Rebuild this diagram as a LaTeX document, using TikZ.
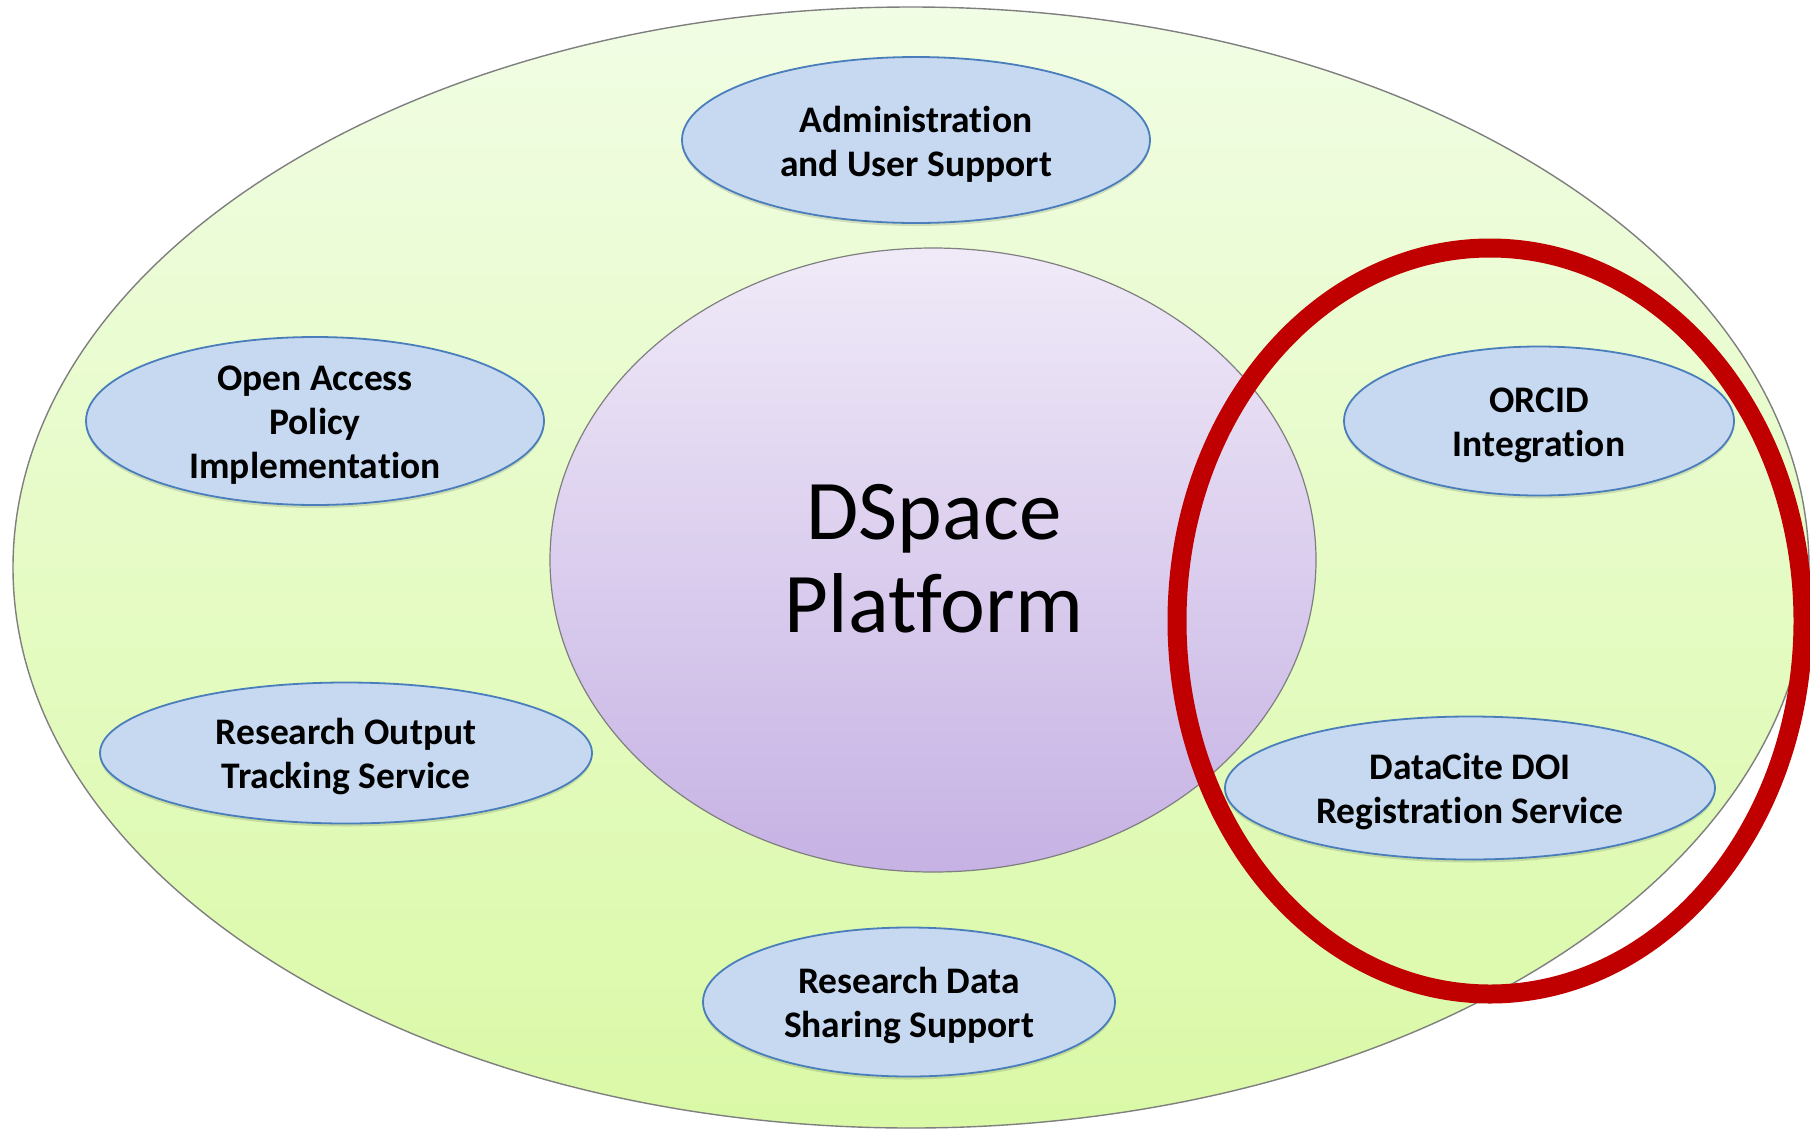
\documentclass[tikz,border=0pt]{standalone}
\usepackage{fontspec}
\setmainfont{Carlito}[Ligatures=NoCommon]
\usetikzlibrary{shapes.geometric,shadows}
\definecolor{grtop}{HTML}{F1FDE4}
\definecolor{grbot}{HTML}{DAF9A6}
\definecolor{putop}{HTML}{F0EAF8}
\definecolor{pubot}{HTML}{C6B2E4}
\definecolor{blfill}{HTML}{C6D9F1}
\definecolor{bldraw}{HTML}{4A7EBB}
\definecolor{ringred}{HTML}{C00000}
\definecolor{edgegray}{HTML}{7F7F7F}
\begin{document}
\begin{tikzpicture}[x=1pt,y=-1pt,
  svc/.style={ellipse, fill=blfill, draw=bldraw, line width=1.8pt, inner sep=0pt,
    drop shadow={shadow xshift=0pt, shadow yshift=-3pt, opacity=0.12, fill=black}},
  lbl/.style={align=center, font=\fontsize{37.5}{44}\selectfont\bfseries, inner sep=0pt},
  big/.style={align=center, font=\fontsize{85}{93}\selectfont, inner sep=0pt}
]
\useasboundingbox (0,0) rectangle (1810,1128);
\clip (0,0) rectangle (1810,1128);
\fill[white] (0,0) rectangle (1810,1128);

% outer ellipse
\node[ellipse, top color=grtop, bottom color=grbot, draw=edgegray, line width=1.4pt,
  minimum width=1796pt, minimum height=1121pt, inner sep=0pt] (outer) at (911,567.5) {};

% central platform
\node[ellipse, top color=putop, bottom color=pubot, draw=edgegray, line width=1.2pt,
  minimum width=766pt, minimum height=624pt, inner sep=0pt] (core) at (933,560) {};
\node[big] (corelbl) at (934,559) {DSpace\\Platform};

% services
\node[svc, minimum width=468pt, minimum height=166pt] (adm) at (916,140) {};
\node[lbl] (admlbl) at (916,144) {Administration\\and User Support};

\node[svc, minimum width=458pt, minimum height=168pt] (oa) at (315,421) {};
\node[lbl] (oalbl) at (315,425) {Open Access\\Policy\\Implementation};

\node[svc, minimum width=492pt, minimum height=141pt] (ro) at (346,753) {};
\node[lbl] (rolbl) at (346,757) {Research Output\\Tracking Service};

\node[svc, minimum width=412pt, minimum height=149pt] (rd) at (909,1002) {};
\node[lbl] (rdlbl) at (909,1006) {Research Data\\Sharing Support};

\node[svc, minimum width=390pt, minimum height=149pt] (orcid) at (1539,421) {};
\node[lbl] (orcidlbl) at (1539,425) {ORCID\\Integration};

\node[svc, minimum width=490pt, minimum height=143pt] (dc) at (1470,788) {};
\node[lbl] (dclbl) at (1470,792) {DataCite DOI\\Registration Service};

% red highlight ring
\node[ellipse, draw=ringred, line width=19pt, inner sep=0pt,
  minimum width=626pt, minimum height=746pt] (ring) at (1490,621) {};
\end{tikzpicture}
\end{document}
